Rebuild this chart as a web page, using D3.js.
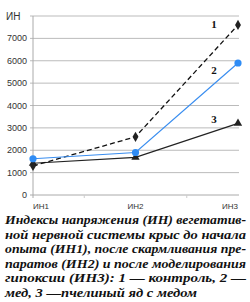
<!DOCTYPE html>
<html>
<head>
<meta charset="utf-8">
<script src="https://cdn.jsdelivr.net/npm/d3@7"></script>
<style>
  body { margin: 0; background: #fff; }
</style>
</head>
<body>
<div id="chart"></div>
<script>
var categories = ['ИН1', 'ИН2', 'ИН3'];
var control = [1300, 2600, 7600];   // 1 — контроль
var honey = [1620, 1900, 5900];     // 2 — мед
var venom = [1420, 1680, 3200];     // 3 — пчелиный яд с медом
var yTicks = [0, 1000, 2000, 3000, 4000, 5000, 6000, 7000, 8000];
var seriesLabels = ['1', '2', '3'];
var caption = [
    'Индексы напряжения (ИН) вегетатив-',
    'ной нервной системы крыс до начала',
    'опыта (ИН1), после скармливания пре-',
    'паратов (ИН2) и после моделирования',
    'гипоксии (ИН3): 1 — контроль, 2 —',
    'мед, 3 —пчелиный яд с медом'
];

var width = 250, height = 302;
var margins = { left: 33, right: 12, top: 16, bottom: 107 };

var vis = d3.select('#chart').append('svg')
    .attr('width', width)
    .attr('height', height)

var x = d3.scalePoint()
    .domain(categories)
    .range([margins.left, width - margins.right]);

var y = d3.scaleLinear()
    .domain([0, 8000])
    .range([height - margins.bottom, margins.top]);

// gridlines
vis.append('g')
    .selectAll('line')
    .data(yTicks)
    .enter().append('line')
    .attr('x1', margins.left - 3)
    .attr('x2', width - margins.right + 1)
    .attr('y1', function(d) { return y(d); })
    .attr('y2', function(d) { return y(d); })
    .attr('stroke', function(d) { return d === 0 ? '#aaa' : '#bbb'; })
    .attr('stroke-width', 1);

// left axis line
vis.append('line')
    .attr('x1', margins.left).attr('x2', margins.left)
    .attr('y1', y(8000)).attr('y2', y(0) + 3)
    .attr('stroke', '#aaa');

// small ticks between categories
vis.append('g')
    .selectAll('line')
    .data([0.5, 1.5])
    .enter().append('line')
    .attr('x1', function(d) { return x(categories[0]) + d * x.step(); })
    .attr('x2', function(d) { return x(categories[0]) + d * x.step(); })
    .attr('y1', y(0)).attr('y2', y(0) + 3)
    .attr('stroke', '#ccc');

// y tick labels
vis.append('g')
    .selectAll('text')
    .data(yTicks.slice(0, -1))
    .enter().append('text')
    .attr('x', margins.left - 6)
    .attr('y', function(d) { return y(d) + 3; })
    .attr('text-anchor', 'end')
    .attr('font-family', 'Liberation Sans, Arial, sans-serif')
    .attr('font-size', 9)
    .attr('fill', '#333')
    .text(function(d) { return d; });

vis.append('text')
    .attr('x', 6)
    .attr('y', margins.top + 4)
    .attr('font-family', 'Liberation Sans, Arial, sans-serif')
    .attr('font-size', 10)
    .attr('fill', '#333')
    .text('ИН');

// x labels
vis.append('g')
    .selectAll('text')
    .data(categories)
    .enter().append('text')
    .attr('x', function(d) { return x(d); })
    .attr('y', y(0) + 14)
    .attr('text-anchor', function(d, i) { return i === 0 ? 'start' : (i === 2 ? 'end' : 'middle'); })
    .attr('font-family', 'Liberation Sans, Arial, sans-serif')
    .attr('font-size', 8)
    .attr('fill', '#333')
    .text(function(d) { return d; });

var line = d3.line()
    .x(function(d, i) { return x(categories[i]); })
    .y(function(d) { return y(d); });

// 3 — solid black, triangles
vis.append('path')
    .datum(venom)
    .attr('d', line)
    .attr('fill', 'none')
    .attr('stroke', '#222')
    .attr('stroke-width', 1.2);

vis.append('g')
    .selectAll('path')
    .data(venom)
    .enter().append('path')
    .attr('d', d3.symbol().type(d3.symbolTriangle).size(30))
    .attr('transform', function(d, i) { return 'translate(' + x(categories[i]) + ',' + y(d) + ')'; })
    .attr('fill', '#222');

// 1 — dashed black, diamonds
vis.append('path')
    .datum(control)
    .attr('d', line)
    .attr('fill', 'none')
    .attr('stroke', '#111')
    .attr('stroke-width', 1.3)
    .attr('stroke-dasharray', '5,3');

vis.append('g')
    .selectAll('path')
    .data(control)
    .enter().append('path')
    .attr('d', d3.symbol().type(d3.symbolDiamond).size(30))
    .attr('transform', function(d, i) { return 'translate(' + x(categories[i]) + ',' + y(d) + ')'; })
    .attr('fill', '#222');

// 2 — blue, circles
vis.append('path')
    .datum(honey)
    .attr('d', line)
    .attr('fill', 'none')
    .attr('stroke', '#3a8ef0')
    .attr('stroke-width', 1.2);

vis.append('g')
    .selectAll('circle')
    .data(honey)
    .enter().append('circle')
    .attr('cx', function(d, i) { return x(categories[i]); })
    .attr('cy', function(d) { return y(d); })
    .attr('r', 3.6)
    .attr('fill', '#2f8cf5');

// series numbers, placed left of the last point
var labelPos = [control[2] - 150, honey[2] - 500, venom[2]];
vis.append('g')
    .selectAll('text')
    .data(seriesLabels)
    .enter().append('text')
    .attr('x', 214)
    .attr('y', function(d, i) { return y(labelPos[i]); })
    .attr('text-anchor', 'middle')
    .attr('font-family', 'Liberation Serif, Times New Roman, serif')
    .attr('font-weight', 'bold')
    .attr('font-size', 11)
    .attr('fill', '#111')
    .text(function(d) { return d; });

// caption
vis.append('g')
    .selectAll('text')
    .data(caption)
    .enter().append('text')
    .attr('x', 5)
    .attr('y', function(d, i) { return 224 + i * 14.6; })
    .attr('textLength', function(d, i) { return i === caption.length - 1 ? 192 : 241; })
    .attr('lengthAdjust', 'spacingAndGlyphs')
    .attr('font-family', 'Liberation Serif, Times New Roman, serif')
    .attr('font-style', 'italic')
    .attr('font-weight', 'bold')
    .attr('font-size', 13)
    .attr('fill', '#111')
    .text(function(d) { return d; });
</script>
</body>
</html>
